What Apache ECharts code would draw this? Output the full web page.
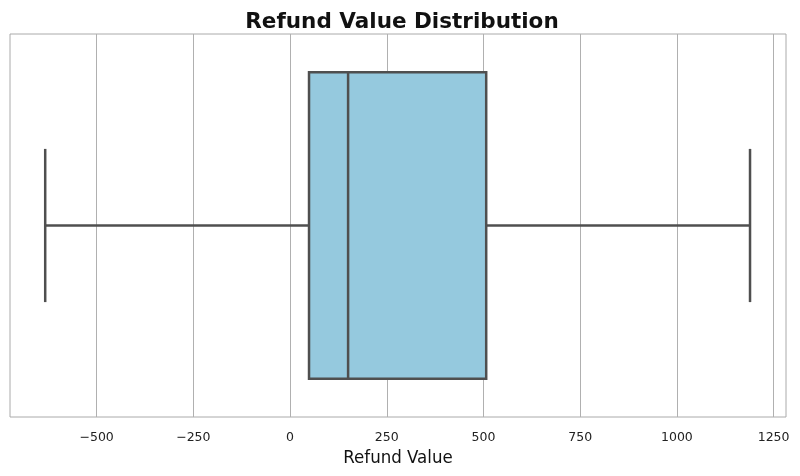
<!DOCTYPE html>
<html>
<head>
<meta charset="utf-8">
<script src="https://cdn.jsdelivr.net/npm/echarts@6/dist/echarts.min.js"></script>
<style>html,body{margin:0;padding:0;background:#fff;}#c{width:800px;height:476px;}</style>
</head>
<body>
<div id="c"></div>
<script>
var categories = ['Refund Value'];
// [min whisker, Q1, median, Q3, max whisker]
var boxStats = [[-633, 49, 150, 507, 1189]];
var tickValues = [-500, -250, 0, 250, 500, 750, 1000, 1250];
var axisMin = -724, axisMax = 1282;

var chart = echarts.init(document.getElementById('c'));
var lineColor = '#4f4f4f';
var data = boxStats.map(function (s, i) { return [i].concat(s); });

chart.setOption({
  animation: false,
  title: {
    text: 'Refund Value Distribution', left: 397, top: 6, textAlign: 'center',
    textStyle: { fontFamily: 'DejaVu Sans', fontSize: 21.5, fontWeight: 'bold', color: '#111' }
  },
  grid: { left: 10, right: 14, top: 34, bottom: 59, outerBoundsMode: 'none', containLabel: false, show: true, borderColor: '#aaaaaa', borderWidth: 1, backgroundColor: 'transparent' },
  xAxis: {
    type: 'value', min: axisMin, max: axisMax,
    name: 'Refund Value', nameLocation: 'middle', nameGap: 29,
    nameTextStyle: { fontFamily: 'DejaVu Sans Condensed', fontSize: 18.5, color: '#111' },
    axisLine: { show: false },
    axisTick: { show: false, customValues: tickValues },
    axisLabel: { customValues: tickValues, fontFamily: 'DejaVu Sans', fontSize: 12.5, color: '#222', margin: 14,
      formatter: function (v) { return String(v).replace('-', '\u2212'); } },
    splitLine: { show: true, lineStyle: { color: '#b0b0b0', width: 1 } }
  },
  yAxis: {
    type: 'category', data: categories, inverse: true,
    axisLine: { show: false }, axisTick: { show: false }, axisLabel: { show: false }, splitLine: { show: false }
  },
  series: [{
    type: 'custom',
    data: data,
    encode: { x: [1, 2, 3, 4, 5], y: 0 },
    renderItem: function (params, api) {
      var c = api.value(0);
      var pMin = api.coord([api.value(1), c]);
      var pQ1 = api.coord([api.value(2), c]);
      var pMed = api.coord([api.value(3), c]);
      var pQ3 = api.coord([api.value(4), c]);
      var pMax = api.coord([api.value(5), c]);
      var band = api.size([0, 1])[1];
      var bh = band * 0.8;
      var ch = bh / 2;
      var y = pMin[1];
      var st = { stroke: lineColor, lineWidth: 2.5, fill: null };
      return {
        type: 'group',
        children: [
          { type: 'line', shape: { x1: pMin[0], y1: y, x2: pQ1[0], y2: y }, style: st },
          { type: 'line', shape: { x1: pQ3[0], y1: y, x2: pMax[0], y2: y }, style: st },
          { type: 'line', shape: { x1: pMin[0], y1: y - ch / 2, x2: pMin[0], y2: y + ch / 2 }, style: st },
          { type: 'line', shape: { x1: pMax[0], y1: y - ch / 2, x2: pMax[0], y2: y + ch / 2 }, style: st },
          { type: 'rect', shape: { x: pQ1[0], y: y - bh / 2, width: pQ3[0] - pQ1[0], height: bh },
            style: { fill: '#95c9de', stroke: lineColor, lineWidth: 2.5 } },
          { type: 'line', shape: { x1: pMed[0], y1: y - bh / 2, x2: pMed[0], y2: y + bh / 2 }, style: st }
        ]
      };
    }
  }]
});
</script>
</body>
</html>
